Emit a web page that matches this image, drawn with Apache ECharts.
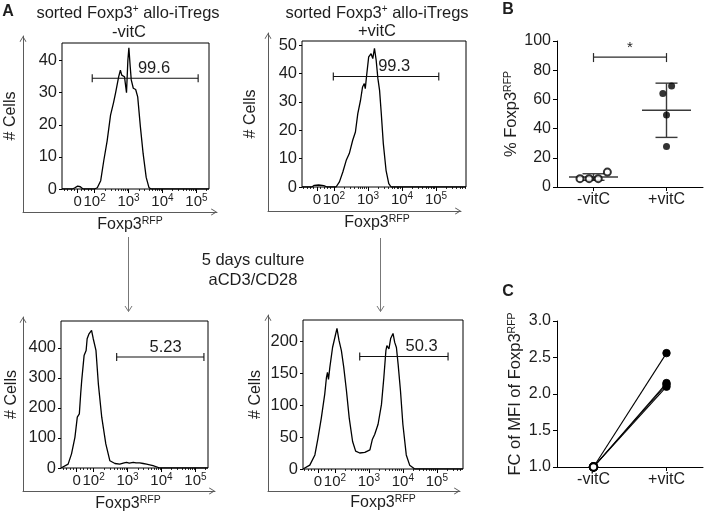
<!DOCTYPE html>
<html><head><meta charset="utf-8">
<script src="https://cdn.jsdelivr.net/npm/echarts@6/dist/echarts.min.js"></script>
<style>html,body{margin:0;padding:0;background:#fff}#c{width:708px;height:515px}</style>
</head><body><div id="c"></div>
<script>
// ================= DATA =================
// Panel A: flow-cytometry histograms of Foxp3^RFP.
// x = position on the biexponential display axis (in decades; "0" sits at 1.5), y = # cells
const axisTickPos = [1.5, 2, 3, 4, 5];
const axisTickLabels = ['0', '10^2', '10^3', '10^4', '10^5'];

// sorted Foxp3+ allo-iTregs, -vitC (day 0)
const histTL = [[1.04,0],[1.35,0],[1.42,0.4],[1.5,0.9],[1.58,0.7],[1.66,0],[2.0,0],[2.08,0.4],[2.18,2.6],[2.27,8.8],[2.37,15],[2.47,23],[2.52,23.6],[2.56,27],[2.62,30],[2.71,35],[2.76,37],[2.8,35.5],[2.84,35],[2.88,35],[2.94,30],[2.98,40],[3.01,44],[3.05,38],[3.08,34],[3.14,31.4],[3.21,31],[3.27,28.7],[3.35,19.3],[3.43,11],[3.52,3.6],[3.6,0.5],[3.66,0],[5.37,0]];
// sorted Foxp3+ allo-iTregs, +vitC (day 0)
const histTR = [[1.06,0],[1.35,0],[1.42,0.6],[1.55,0.7],[1.7,0.5],[1.8,0],[2.06,0],[2.16,1.8],[2.26,5.3],[2.36,9.4],[2.45,11.8],[2.55,16.5],[2.63,19.4],[2.70,25.9],[2.78,30.6],[2.84,35.3],[2.89,36.5],[2.92,34.7],[2.96,39.4],[3.02,45.9],[3.09,47],[3.14,45.3],[3.19,48.9],[3.24,44.7],[3.29,38.3],[3.34,34.1],[3.39,25.9],[3.45,15.3],[3.53,5.9],[3.61,1.2],[3.68,0],[5.88,0]];
// after 5 days culture, -vitC
const histBL = [[1.04,0],[1.06,0],[1.25,13],[1.35,47],[1.45,102],[1.52,169],[1.58,180],[1.62,247],[1.65,291],[1.72,374],[1.78,391],[1.81,430],[1.86,445],[1.89,441],[1.94,458],[1.99,430],[2.07,391],[2.14,280],[2.24,169],[2.36,80],[2.48,24],[2.63,15],[2.77,13],[2.9,17],[2.97,19],[3.05,16],[3.17,19],[3.25,17],[3.36,17],[3.46,15],[3.56,13],[3.75,8],[3.95,0],[5.37,0]];
// after 5 days culture, +vitC
const histBR = [[1.06,0],[1.08,0],[1.26,6],[1.41,22],[1.50,48],[1.60,80],[1.70,117],[1.75,143],[1.78,151],[1.81,140],[1.85,159],[1.93,190],[2.00,206],[2.06,220],[2.12,201],[2.19,185],[2.26,159],[2.34,122],[2.42,80],[2.52,43],[2.61,28],[2.73,25],[2.88,26],[3.03,30],[3.10,46],[3.17,54],[3.27,70],[3.37,101],[3.44,143],[3.50,185],[3.53,193],[3.59,188],[3.64,204],[3.71,212],[3.76,198],[3.81,190],[3.86,164],[3.93,122],[4.00,70],[4.10,22],[4.20,6],[4.35,0],[5.77,0]];

const yTicksTL = [0, 10, 20, 30, 40];
const yTicksTR = [0, 10, 20, 30, 40, 50];
const yTicksBL = [0, 100, 200, 300, 400];
const yTicksBR = [0, 50, 100, 150, 200];

// gates: [from, to, level]  and the percentage shown
const gateTL = [1.93, 5.05, 34.5]; const gatePctTL = '99.6';
const gateTR = [1.98, 5.08, 39];   const gatePctTR = '99.3';
const gateBL = [2.68, 5.25, 369];  const gatePctBL = '5.23';
const gateBR = [2.73, 5.33, 176];  const gatePctBR = '50.3';

// Panel B: % Foxp3RFP
const groups = ['-vitC', '+vitC'];
const pctMinus = [5.7, 5.7, 5.7, 10.2];
const pctPlus  = [64.1, 69.1, 49.3, 27.7];
const jitterMinus = [-0.185, -0.06, 0.065, 0.19];
const jitterPlus  = [-0.05, 0.07, 0, 0];
const sigLevel = 89; const sigText = '*';

// Panel C: fold change of MFI of Foxp3RFP (paired)
const fcMinus = [1.0, 1.0, 1.0, 1.0];
const fcPlus  = [2.56, 2.15, 2.13, 2.10];

// ================= LAYOUT / STYLE =================
const FONT = '"Liberation Sans", Arial, Helvetica, sans-serif';
const TXT = '#1e1e1e';
const ARROW = '#5a5a5a';
const supRich = {s: {fontSize: 10.5, lineHeight: 7, verticalAlign: 'top', fontFamily: FONT, color: TXT}};
const tickRich = {s: {fontSize: 10, lineHeight: 7, verticalAlign: 'top', fontFamily: FONT, color: TXT}};
const toTickRich = s => s.replace(/\^(\w+)$/, '{s|$1}');
const chevron = 'path://M5,0 L10,8.2 L9,8.8 L5,2.3 L1,8.8 L0,8.2 Z';

const panels = [
  {data: histTL, yTicks: yTicksTL, yMax: 45.5, gate: gateTL, pct: gatePctTL, pctX: 3.75,
   box: {left: 62, top: 43, width: 147, height: 146}, xRange: [1.04, 5.37],
   arrows: {left: 23, top: 36, right: 217, bottom: 212}, namePadR: 11, nameGapX: 27, nameGapY: 43},
  {data: histTR, yTicks: yTicksTR, yMax: 51.5, gate: gateTR, pct: gatePctTR, pctX: 3.77,
   box: {left: 302, top: 41, width: 164, height: 146}, xRange: [1.06, 5.88],
   arrows: {left: 268, top: 33, right: 461, bottom: 211}, namePadR: 14, nameGapX: 27, nameGapY: 43},
  {data: histBL, yTicks: yTicksBL, yMax: 489, gate: gateBL, pct: gatePctBL, pctX: 4.12,
   box: {left: 61, top: 321, width: 147, height: 147}, xRange: [1.04, 5.37],
   arrows: {left: 23, top: 317, right: 215, bottom: 491}, namePadR: 13, nameGapX: 27, nameGapY: 41},
  {data: histBR, yTicks: yTicksBR, yMax: 233, gate: gateBR, pct: gatePctBR, pctX: 4.55,
   box: {left: 303, top: 320, width: 160, height: 149}, xRange: [1.06, 5.77],
   arrows: {left: 268, top: 315, right: 460, bottom: 491}, namePadR: 0, nameGapX: 25, nameGapY: 39}
];

// minor tick positions on the biexponential axis
const minorTicks = [1.1, 1.2, 1.3, 1.4, 1.6, 1.7, 1.8, 1.9];
for (let k = 2; k <= 5; k++) for (let m = 2; m <= 9; m++) minorTicks.push(k + Math.log10(m));

const grid = [], xAxis = [], yAxis = [], series = [];

panels.forEach((p) => {
  grid.push(Object.assign({show: true, borderColor: '#000', borderWidth: 1}, p.box));
});
panels.forEach((p) => {
  const a = p.arrows;
  grid.push({left: a.left, top: a.top, width: a.right - a.left, height: a.bottom - a.top});
});
grid.push({left: 557, top: 41, width: 146, height: 146});   // B  (index 8)
grid.push({left: 557, top: 321, width: 146, height: 146});  // C  (index 9)

// inner histogram axes (0-3)
panels.forEach((p, i) => {
  xAxis.push({
    gridIndex: i, type: 'value', min: p.xRange[0], max: p.xRange[1], position: 'bottom',
    axisLine: {show: false}, splitLine: {show: false},
    axisTick: {show: true, customValues: axisTickPos, length: 4, lineStyle: {color: '#000'}},
    axisLabel: {show: true, customValues: axisTickPos, margin: 4, fontSize: 15, lineHeight: 18, hideOverlap: false,
      color: TXT, fontFamily: FONT, rich: tickRich,
      formatter: v => { const j = axisTickPos.findIndex(t => Math.abs(t - v) < 1e-6); return j < 0 ? '' : toTickRich(axisTickLabels[j]); }},
    name: 'Foxp3{s|RFP}', nameLocation: 'middle', nameGap: p.nameGapX,
    nameTextStyle: {fontSize: 16, color: TXT, fontFamily: FONT, lineHeight: 18, padding: [0, p.namePadR, 0, 0], rich: supRich}
  });
  yAxis.push({
    gridIndex: i, type: 'value', min: 0, max: p.yMax,
    axisLine: {show: false}, splitLine: {show: false},
    axisTick: {show: true, customValues: p.yTicks, length: 3, lineStyle: {color: '#000'}},
    axisLabel: {show: true, customValues: p.yTicks, margin: 5, fontSize: 16.5, color: TXT, fontFamily: FONT},
    name: '# Cells', nameLocation: 'middle', nameGap: p.nameGapY,
    nameTextStyle: {fontSize: 16, color: TXT, fontFamily: FONT}
  });
});
// minor ticks (xAxis 4-7)
panels.forEach((p, i) => {
  xAxis.push({
    gridIndex: i, type: 'value', min: p.xRange[0], max: p.xRange[1], position: 'bottom',
    axisLine: {show: false}, splitLine: {show: false}, axisLabel: {show: false},
    axisTick: {show: true, customValues: minorTicks.filter(t => t > p.xRange[0] && t < p.xRange[1]), length: 2, lineStyle: {color: '#000', width: 0.8}}
  });
});
// outer arrow axes (xAxis 8-11, yAxis 4-7)
panels.forEach((p, i) => {
  const arrowLine = {show: true, onZero: false, lineStyle: {color: ARROW, width: 1},
    symbol: ['none', chevron], symbolSize: [7, 6], symbolOffset: [0, -3]};
  xAxis.push({gridIndex: 4 + i, type: 'value', min: 0, max: 1, position: 'bottom',
    axisLine: arrowLine, axisTick: {show: false}, axisLabel: {show: false}, splitLine: {show: false}});
  yAxis.push({gridIndex: 4 + i, type: 'value', min: 0, max: 1, position: 'left',
    axisLine: arrowLine, axisTick: {show: false}, axisLabel: {show: false}, splitLine: {show: false}});
});
// Panel B axes (xAxis 12, yAxis 8)
const catPos = groups.map((g, i) => i + 0.5);
const catAxis = (gi) => ({
  gridIndex: gi, type: 'value', min: 0, max: groups.length, position: 'bottom',
  axisLine: {show: true, onZero: false, lineStyle: {color: '#000', width: 1}}, splitLine: {show: false},
  axisTick: {show: true, customValues: catPos, length: 4, lineStyle: {color: '#000'}},
  axisLabel: {show: true, customValues: catPos, margin: 5, fontSize: 16, color: TXT, fontFamily: FONT,
    formatter: v => groups[Math.round(v - 0.5)] || ''}
});
xAxis.push(catAxis(8));
yAxis.push({
  gridIndex: 8, type: 'value', min: 0, max: 100, interval: 20,
  axisLine: {show: true, onZero: false, lineStyle: {color: '#000', width: 1}}, splitLine: {show: false},
  axisTick: {show: true, length: 4, lineStyle: {color: '#000'}},
  axisLabel: {margin: 6, fontSize: 16, color: TXT, fontFamily: FONT},
  name: '% Foxp3{s|RFP}', nameLocation: 'middle', nameGap: 31,
  nameTextStyle: {fontSize: 16.5, color: TXT, fontFamily: FONT, lineHeight: 18, rich: supRich}
});
// Panel C axes (xAxis 13, yAxis 9)
xAxis.push(catAxis(9));
yAxis.push({
  gridIndex: 9, type: 'value', min: 1, max: 3, interval: 0.5,
  axisLine: {show: true, onZero: false, lineStyle: {color: '#000', width: 1}}, splitLine: {show: false},
  axisTick: {show: true, length: 4, lineStyle: {color: '#000'}},
  axisLabel: {margin: 6, fontSize: 16, color: TXT, fontFamily: FONT, formatter: v => v.toFixed(1)},
  name: 'FC of MFI of Foxp3{s|RFP}', nameLocation: 'middle', nameGap: 32,
  nameTextStyle: {fontSize: 16.5, color: TXT, fontFamily: FONT, lineHeight: 18, rich: supRich}
});

// ---- series: histograms + gates ----
panels.forEach((p, i) => {
  series.push({type: 'line', xAxisIndex: i, yAxisIndex: i, data: p.data, showSymbol: false, symbol: 'none',
    lineStyle: {color: '#000', width: 1.3}, z: 3});
  series.push({type: 'custom', xAxisIndex: i, yAxisIndex: i, data: [[p.gate[0], p.gate[1], p.gate[2], p.pctX]], z: 4,
    renderItem: (params, api) => {
      const a = api.coord([api.value(0), api.value(2)]);
      const b = api.coord([api.value(1), api.value(2)]);
      const l = api.coord([api.value(3), api.value(2)]);
      const st = {stroke: '#111', lineWidth: 1.1};
      return {type: 'group', children: [
        {type: 'line', shape: {x1: a[0], y1: a[1], x2: b[0], y2: b[1]}, style: st},
        {type: 'line', shape: {x1: a[0], y1: a[1] - 4, x2: a[0], y2: a[1] + 4}, style: st},
        {type: 'line', shape: {x1: b[0], y1: b[1] - 4, x2: b[0], y2: b[1] + 4}, style: st},
        {type: 'text', style: {text: p.pct, x: l[0], y: a[1] - 1, align: 'center', verticalAlign: 'bottom',
          fontSize: 16.5, fontFamily: FONT, fill: TXT}}
      ]};
    }});
});

// ---- Panel B ----
const meanSd = arr => {
  const m = arr.reduce((s, v) => s + v, 0) / arr.length;
  const sd = Math.sqrt(arr.reduce((s, v) => s + (v - m) * (v - m), 0) / (arr.length - 1));
  return [m, sd];
};
series.push({type: 'custom', xAxisIndex: 12, yAxisIndex: 8, z: 2,
  data: [[catPos[0], ...meanSd(pctMinus)], [catPos[1], ...meanSd(pctPlus)]],
  renderItem: (params, api) => {
    const x = api.value(0), m = api.value(1), sd = api.value(2);
    const c = api.coord([x, m]), t = api.coord([x, m + sd]), b = api.coord([x, m - sd]);
    const st = {stroke: '#3a3a3a', lineWidth: 1.4};
    return {type: 'group', children: [
      {type: 'line', shape: {x1: c[0] - 24.5, y1: c[1], x2: c[0] + 24.5, y2: c[1]}, style: st},
      {type: 'line', shape: {x1: c[0], y1: t[1], x2: c[0], y2: b[1]}, style: st},
      {type: 'line', shape: {x1: c[0] - 11, y1: t[1], x2: c[0] + 11, y2: t[1]}, style: st},
      {type: 'line', shape: {x1: c[0] - 11, y1: b[1], x2: c[0] + 11, y2: b[1]}, style: st}
    ]};
  }});
series.push({type: 'scatter', xAxisIndex: 12, yAxisIndex: 8, z: 3,
  data: pctMinus.map((v, i) => [catPos[0] + jitterMinus[i], v]),
  symbol: 'emptyCircle', symbolSize: 7, itemStyle: {color: '#000', borderColor: '#000', borderWidth: 1.2}});
series.push({type: 'scatter', xAxisIndex: 12, yAxisIndex: 8, z: 3,
  data: pctPlus.map((v, i) => [catPos[1] + jitterPlus[i], v]),
  symbol: 'circle', symbolSize: 7, itemStyle: {color: '#000'}});
series.push({type: 'custom', xAxisIndex: 12, yAxisIndex: 8, z: 3,
  data: [[catPos[0], catPos[1], sigLevel]],
  renderItem: (params, api) => {
    const a = api.coord([api.value(0), api.value(2)]);
    const b = api.coord([api.value(1), api.value(2)]);
    const st = {stroke: '#2a2a2a', lineWidth: 1.2};
    return {type: 'group', children: [
      {type: 'line', shape: {x1: a[0], y1: a[1], x2: b[0], y2: b[1]}, style: st},
      {type: 'line', shape: {x1: a[0], y1: a[1] - 4, x2: a[0], y2: a[1] + 5}, style: st},
      {type: 'line', shape: {x1: b[0], y1: b[1] - 4, x2: b[0], y2: b[1] + 5}, style: st},
      {type: 'text', style: {text: sigText, x: (a[0] + b[0]) / 2, y: a[1] - 2, align: 'center', verticalAlign: 'bottom',
        fontSize: 15, fontFamily: FONT, fill: TXT}}
    ]};
  }});

// ---- Panel C ----
fcMinus.forEach((v, i) => {
  series.push({type: 'line', xAxisIndex: 13, yAxisIndex: 9, z: 3,
    data: [{value: [catPos[0], v], symbol: 'emptyCircle'}, {value: [catPos[1], fcPlus[i]], symbol: 'circle'}],
    symbolSize: 7.5, lineStyle: {color: '#000', width: 1.1},
    itemStyle: {color: '#000', borderColor: '#000', borderWidth: 0.9}});
});

// ---- decorations: titles, panel letters, connector arrows ----
const T = (text, x, y, extra) => ({type: 'text', x: x, y: y, style: Object.assign({text: text, align: 'center', verticalAlign: 'middle',
  fontSize: 16.5, fontFamily: FONT, fill: TXT, rich: {s: {fontSize: 10, lineHeight: 8, verticalAlign: 'top', fontFamily: FONT, fill: TXT}}}, extra || {})});
const connector = (x, y1, y2) => ({type: 'group', children: [
  {type: 'line', shape: {x1: x, y1: y1, x2: x, y2: y2}, style: {stroke: '#777', lineWidth: 1}},
  {type: 'polyline', shape: {points: [[x - 3.5, y2 - 5.5], [x, y2], [x + 3.5, y2 - 5.5]]}, style: {stroke: '#777', lineWidth: 1, fill: null}}
]});
const graphic = [
  T('A', 8, 12, {fontWeight: 'bold', fontSize: 16}),
  T('B', 508, 10, {fontWeight: 'bold', fontSize: 16}),
  T('C', 508, 292, {fontWeight: 'bold', fontSize: 16}),
  T('sorted Foxp3{s|+} allo-iTregs', 128, 13),
  T('-vitC', 129, 32),
  T('sorted Foxp3{s|+} allo-iTregs', 377, 13),
  T('+vitC', 377, 31),
  T('5 days culture', 253, 260),
  T('aCD3/CD28', 253, 280),
  connector(128.5, 237, 311.5),
  connector(380.5, 238, 311.5)
];

const chart = echarts.init(document.getElementById('c'), null, {renderer: 'canvas'});
chart.setOption({animation: false, backgroundColor: '#fff', grid, xAxis, yAxis, series, graphic});
</script></body></html>
